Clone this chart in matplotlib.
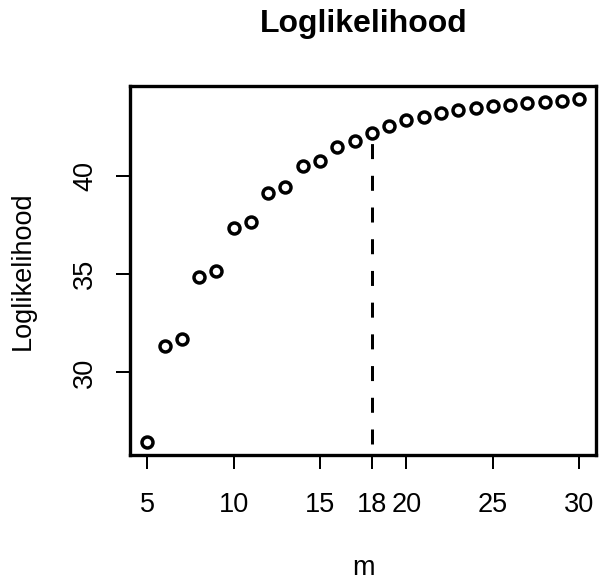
import numpy as np
import matplotlib
matplotlib.use("Agg")
import matplotlib.pyplot as plt

plt.rcParams["font.family"] = ["Liberation Sans", "DejaVu Sans"]

# number of states and the fitted log-likelihood for each
m_values = list(range(5, 31))
loglik = [26.46, 31.37, 31.68, 34.88, 35.19, 37.37, 37.65, 39.17, 39.46,
          40.51, 40.80, 41.49, 41.78, 42.22, 42.58, 42.85, 43.05, 43.22,
          43.36, 43.47, 43.57, 43.66, 43.75, 43.81, 43.86, 43.93]
chosen_m = 18
x_ticks = [5, 10, 15, 18, 20, 25, 30]
y_ticks = [30, 35, 40]


def padded(lo, hi, frac=0.04):
    span = hi - lo
    return lo - frac * span, hi + frac * span


fig = plt.figure(figsize=(5.99, 5.85), dpi=100)
ax = fig.add_axes([0.2170, 0.2214, 0.7788, 0.6323])

xlim = padded(min(m_values), max(m_values))
ylim = padded(min(loglik), max(loglik))
ax.set_xlim(xlim)
ax.set_ylim(ylim)

ax.plot(m_values, loglik, linestyle="none", marker="o", markersize=7.9,
        markerfacecolor="none", markeredgecolor="black",
        markeredgewidth=2.5, zorder=3)

# dashed marker for the selected m, from the bottom of the panel up to its point
sel = loglik[m_values.index(chosen_m)]
ax.plot([chosen_m, chosen_m], [ylim[0], sel], color="black", lw=2.16,
        linestyle=(6.9, (5.0, 5.57)), dash_capstyle="butt", zorder=2)

for sp in ax.spines.values():
    sp.set_linewidth(2.4)

ax.set_xticks(x_ticks)
ax.set_yticks(y_ticks)
ax.tick_params(axis="both", direction="out", length=10, width=1.44,
               labelsize=19.5, color="black")
ax.tick_params(axis="x", pad=16)
ax.tick_params(axis="y", pad=13)
for lab in ax.get_yticklabels():
    lab.set_rotation(90)
    lab.set_va("center")

ax.set_xlabel("m", fontsize=19.5)
ax.xaxis.set_label_coords(0.5, -0.305)
ax.xaxis.label.set_va("center")
ax.set_ylabel("Loglikelihood", fontsize=19.5)
ax.yaxis.set_label_coords(-0.229, 0.5)
ax.yaxis.label.set_va("center")

ax.set_title("Loglikelihood", fontsize=23, fontweight="bold",
             y=1.1457, va="baseline", pad=0)

fig.savefig("out.png", dpi=100)
